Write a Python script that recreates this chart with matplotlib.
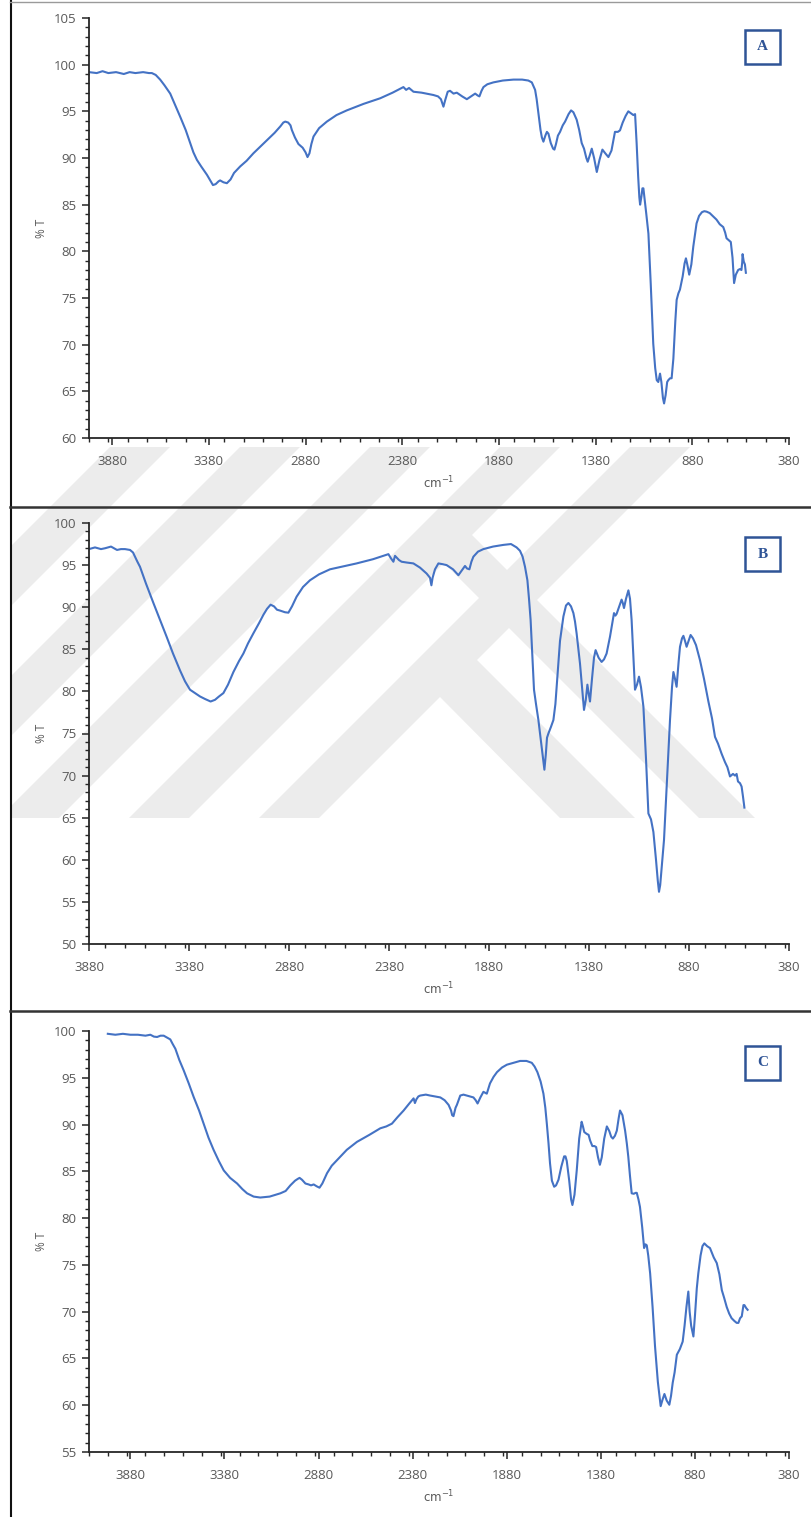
import matplotlib
matplotlib.use("Agg")
import matplotlib.pyplot as plt
from matplotlib.ticker import MultipleLocator, FixedLocator
from matplotlib.patches import Rectangle, Polygon
from matplotlib.lines import Line2D

# ---- FTIR spectra (wavenumber in cm-1, transmittance in %) ----
wn_a = [4000, 3960, 3930, 3900, 3860, 3820, 3790, 3760, 3720, 3690, 3675, 3655, 3632,
        3610, 3580, 3555, 3528, 3500, 3477, 3460, 3442, 3420, 3400, 3390, 3370, 3359,
        3345, 3330, 3322, 3305, 3287, 3268, 3250, 3218, 3185, 3150, 3120, 3080, 3040,
        3010, 2995, 2985, 2970, 2958, 2951, 2935, 2917, 2895, 2880, 2870, 2860, 2850,
        2839, 2810, 2770, 2720, 2667, 2580, 2494, 2430, 2374, 2360, 2345, 2322, 2280,
        2219, 2195, 2180, 2167, 2158, 2145, 2133, 2115, 2098, 2070, 2046, 2025, 2003,
        1990, 1981, 1970, 1960, 1940, 1909, 1860, 1805, 1760, 1728, 1710, 1693, 1685,
        1676, 1665, 1658, 1650, 1640, 1632, 1624, 1612, 1600, 1593, 1585, 1575, 1564,
        1550, 1538, 1520, 1507, 1495, 1478, 1465, 1452, 1440, 1428, 1421, 1410, 1400,
        1388, 1374, 1360, 1345, 1330, 1314, 1298, 1280, 1265, 1254, 1240, 1225, 1211,
        1198, 1185, 1176, 1168, 1160, 1154, 1150, 1143, 1138, 1133, 1126, 1118, 1107,
        1095, 1082, 1072, 1064, 1056, 1050, 1047, 1040, 1032, 1026, 1018, 1010, 1004,
        995, 987, 978, 968, 961, 952, 944, 930, 920, 913, 905, 896, 885, 875, 865, 858,
        845, 830, 818, 806, 790, 775, 755, 738, 720, 710, 703, 692, 681, 672, 664, 655,
        643, 634, 626, 622, 620, 614, 608, 603]
t_a = [99.2, 99.1, 99.3, 99.1, 99.2, 99.0, 99.2, 99.1, 99.2, 99.1, 99.1, 98.9, 98.4,
       97.8, 96.9, 95.7, 94.4, 93.0, 91.6, 90.6, 89.8, 89.1, 88.5, 88.2, 87.5, 87.1,
       87.2, 87.5, 87.6, 87.4, 87.3, 87.7, 88.4, 89.1, 89.7, 90.5, 91.1, 91.9, 92.7,
       93.4, 93.8, 93.9, 93.8, 93.5, 93.0, 92.2, 91.5, 91.1, 90.6, 90.1, 90.5, 91.5,
       92.3, 93.2, 93.9, 94.6, 95.1, 95.8, 96.4, 97.0, 97.6, 97.3, 97.5, 97.1, 97.0,
       96.75, 96.6, 96.3, 95.5, 96.2, 97.1, 97.2, 96.9, 97.0, 96.6, 96.3, 96.6, 96.9,
       96.7, 96.6, 97.2, 97.6, 97.9, 98.1, 98.3, 98.4, 98.4, 98.3, 98.1, 97.3, 96.3,
       94.8, 93.0, 92.2, 91.75, 92.4, 92.8, 92.6, 91.6, 91.0, 90.9, 91.5, 92.4, 92.8,
       93.5, 93.9, 94.7, 95.1, 94.9, 94.1, 93.0, 91.6, 91.0, 90.0, 89.6, 90.3, 91.0,
       90.0, 88.5, 89.8, 90.9, 90.5, 90.1, 90.8, 92.8, 92.8, 92.96, 93.8, 94.5, 95.0,
       94.8, 94.6, 94.7, 91.6, 88.0, 85.8, 85.0, 85.9, 86.75, 86.75, 85.5, 84.0, 81.9,
       76.5, 70.1, 67.5, 66.2, 66.0, 66.6, 66.9, 66.0, 64.3, 63.7, 64.6, 66.0, 66.2,
       66.4, 66.4, 68.5, 72.5, 74.8, 75.5, 75.9, 77.3, 78.7, 79.25, 78.5, 77.5, 78.6,
       80.5, 82.0, 83.0, 83.8, 84.2, 84.3, 84.25, 84.1, 83.8, 83.4, 82.9, 82.6, 82.0,
       81.4, 81.2, 81.0, 79.3, 76.6, 77.5, 78.0, 78.1, 78.0, 78.8, 79.7, 78.9, 78.6,
       77.7]

wn_b = [3880, 3850, 3820, 3800, 3770, 3740, 3720, 3700, 3675, 3660, 3650, 3638, 3625,
        3595, 3558, 3525, 3492, 3460, 3425, 3400, 3375, 3350, 3325, 3300, 3272, 3250,
        3230, 3208, 3185, 3158, 3130, 3108, 3085, 3058, 3030, 3008, 2990, 2972, 2955,
        2940, 2925, 2900, 2883, 2865, 2842, 2810, 2775, 2730, 2675, 2600, 2542, 2460,
        2383, 2370, 2358, 2350, 2342, 2330, 2317, 2290, 2258, 2225, 2192, 2175, 2168,
        2162, 2150, 2133, 2110, 2092, 2060, 2033, 2015, 2000, 1990, 1978, 1968, 1958,
        1935, 1908, 1860, 1808, 1770, 1742, 1725, 1712, 1700, 1688, 1680, 1672, 1665,
        1655, 1645, 1633, 1620, 1610, 1603, 1596, 1590, 1583, 1570, 1558, 1548, 1538,
        1525, 1508, 1495, 1483, 1470, 1458, 1450, 1442, 1433, 1425, 1415, 1405, 1396,
        1388, 1382, 1375, 1365, 1355, 1347, 1332, 1317, 1305, 1292, 1275, 1255, 1248,
        1242, 1230, 1217, 1211, 1205, 1195, 1183, 1175, 1167, 1158, 1150, 1140, 1130,
        1120, 1108, 1095, 1083, 1070, 1058, 1045, 1036, 1030, 1024, 1015, 1005, 990, 975,
        965, 958, 950, 942, 932, 925, 915, 908, 900, 892, 882, 872, 860, 845, 825, 805,
        783, 765, 750, 735, 717, 700, 688, 675, 660, 650, 642, 635, 625, 617, 610, 603]
t_b = [96.9, 97.1, 96.9, 97.0, 97.2, 96.8, 96.9, 96.9, 96.8, 96.5, 96.0, 95.4, 94.8,
       92.8, 90.5, 88.5, 86.5, 84.5, 82.5, 81.2, 80.2, 79.8, 79.4, 79.1, 78.8, 79.0,
       79.4, 79.8, 80.8, 82.3, 83.6, 84.5, 85.7, 86.9, 88.1, 89.1, 89.8, 90.3, 90.1,
       89.7, 89.6, 89.4, 89.35, 90.1, 91.25, 92.4, 93.2, 93.9, 94.5, 94.9, 95.2, 95.7,
       96.3, 95.8, 95.4, 96.1, 95.9, 95.6, 95.4, 95.3, 95.2, 94.7, 94.0, 93.5, 92.6,
       93.5, 94.5, 95.2, 95.1, 95.0, 94.5, 93.8, 94.4, 94.9, 94.6, 94.5, 95.4, 96.0,
       96.6, 96.9, 97.2, 97.4, 97.5, 97.1, 96.7, 96.0, 94.8, 93.2, 91.0, 88.5, 85.0,
       80.2, 78.5, 76.6, 74.0, 72.0, 70.7, 72.5, 74.5, 75.0, 75.8, 76.6, 78.5, 81.75,
       86.0, 88.9, 90.2, 90.5, 90.1, 89.3, 88.3, 86.9, 85.0, 83.3, 80.5, 77.8, 79.0,
       80.8, 79.8, 78.8, 81.5, 84.0, 84.9, 84.0, 83.5, 83.8, 84.5, 86.5, 89.3, 89.0,
       89.2, 90.0, 90.9, 90.5, 89.9, 91.0, 92.0, 91.0, 88.5, 84.0, 80.2, 80.8, 81.75,
       80.5, 78.2, 72.0, 65.5, 64.8, 63.3, 60.0, 57.5, 56.2, 57.0, 59.5, 62.35, 69.5, 76.6,
       80.5, 82.3, 81.5, 80.55, 83.5, 85.3, 86.3, 86.6, 86.0, 85.3, 86.0, 86.7, 86.3,
       85.5, 83.7, 81.5, 78.8, 76.8, 74.6, 73.8, 72.6, 71.6, 71.0, 69.9, 70.2, 70.0,
       70.2, 69.3, 69.1, 68.7, 67.5, 66.2]

wn_c = [4000, 3960, 3920, 3880, 3840, 3800, 3774, 3755, 3738, 3720, 3703, 3685, 3668,
        3655, 3641, 3620, 3597, 3570, 3544, 3515, 3491, 3465, 3438, 3410, 3384, 3350,
        3313, 3285, 3260, 3225, 3190, 3140, 3083, 3055, 3030, 3005, 2990, 2981, 2968,
        2950, 2933, 2920, 2906, 2890, 2875, 2860, 2835, 2810, 2782, 2730, 2676, 2610,
        2552, 2520, 2490, 2460, 2428, 2400, 2375, 2368, 2360, 2350, 2340, 2310, 2287,
        2260, 2233, 2210, 2189, 2176, 2170, 2163, 2152, 2145, 2127, 2110, 2092, 2075,
        2057, 2045, 2035, 2020, 2004, 1995, 1986, 1978, 1969, 1950, 1932, 1905, 1879,
        1845, 1809, 1775, 1747, 1732, 1717, 1700, 1685, 1675, 1667, 1658, 1650, 1640,
        1628, 1618, 1605, 1590, 1575, 1568, 1561, 1548, 1538, 1531, 1520, 1508, 1495,
        1482, 1475, 1468, 1455, 1445, 1437, 1425, 1414, 1405, 1395, 1385, 1375, 1362,
        1348, 1335, 1325, 1316, 1305, 1295, 1285, 1278, 1265, 1251, 1242, 1234, 1225,
        1216, 1205, 1195, 1189, 1180, 1172, 1160, 1150, 1143, 1136, 1128, 1118, 1105,
        1092, 1077, 1062, 1052, 1042, 1030, 1016, 1007, 998, 988, 976, 960, 945, 935,
        925, 915, 908, 900, 888, 880, 870, 862, 850, 840, 830, 815, 800, 780, 764, 750,
        737, 725, 711, 698, 685, 670, 658, 649, 640, 631, 622, 617, 608, 600]
t_c = [99.7, 99.6, 99.7, 99.6, 99.6, 99.5, 99.6, 99.4, 99.36, 99.5, 99.5, 99.3, 99.1,
       98.6, 98.1, 96.9, 95.8, 94.4, 92.96, 91.5, 90.1, 88.6, 87.3, 86.1, 85.1, 84.3,
       83.7, 83.1, 82.65, 82.3, 82.2, 82.3, 82.65, 82.9, 83.5, 84.0, 84.2, 84.3, 84.1,
       83.7, 83.6, 83.5, 83.6, 83.4, 83.25, 83.7, 84.8, 85.6, 86.2, 87.3, 88.15, 88.9,
       89.6, 89.8, 90.1, 90.8, 91.5, 92.2, 92.8, 92.3, 92.7, 93.0, 93.1, 93.2, 93.1,
       93.0, 92.9, 92.6, 92.1, 91.5, 91.0, 90.9, 91.8, 92.1, 93.1, 93.2, 93.1, 93.0,
       92.9, 92.6, 92.25, 92.9, 93.5, 93.4, 93.3, 93.8, 94.4, 95.1, 95.6, 96.1, 96.4,
       96.6, 96.8, 96.8, 96.6, 96.2, 95.6, 94.6, 93.3, 91.8, 90.1, 88.0, 85.85, 84.0,
       83.35, 83.5, 84.1, 85.5, 86.6, 86.6, 86.1, 84.0, 82.0, 81.4, 82.5, 85.1, 88.5,
       90.3, 89.8, 89.2, 89.0, 88.9, 88.3, 87.7, 87.7, 87.6, 86.5, 85.7, 86.5, 88.5,
       89.8, 89.3, 88.7, 88.5, 88.8, 89.35, 90.7, 91.5, 91.0, 89.35, 88.0, 86.55, 84.5,
       82.65, 82.6, 82.7, 82.7, 82.0, 81.2, 79.0, 76.8, 77.2, 77.1, 76.0, 74.1, 70.5,
       66.3, 62.5, 59.9, 60.6, 61.2, 60.5, 60.05, 61.0, 62.4, 63.5, 65.4, 66.0, 66.8, 68.5,
       70.5, 72.15, 70.0, 68.5, 67.35, 69.5, 72.5, 74.1, 76.0, 77.0, 77.3, 77.0, 76.8,
       75.8, 75.2, 74.0,
       72.3, 71.5, 70.5, 69.8, 69.3, 69.0, 68.8, 68.8, 69.3, 69.5, 70.7, 70.7, 70.4, 70.2]

panel_names = ["A", "B", "C"]
x_limits = [(4000, 380), (3880, 380), (4100, 380)]
y_limits = [(60, 105), (50, 100), (55, 100)]
x_ticks = [3880, 3380, 2880, 2380, 1880, 1380, 880, 380]

LINE_BLUE = "#4472C4"
LABEL_BLUE = "#2F5496"
TEXT_GREY = "#595959"
AXIS_COL = "#262626"
MARK_GREY = "#ECECEC"

W, H = 811, 1517
fig = plt.figure(figsize=(W / 100, H / 100), dpi=100)
fig.patch.set_facecolor("white")


def fpt(x, y):
    """pixel position (from top-left) -> figure fraction"""
    return (x / W, 1 - y / H)


def add_shape(pts, clip):
    p = Polygon([fpt(*q) for q in pts], closed=True, transform=fig.transFigure,
                facecolor=MARK_GREY, edgecolor="none", zorder=0)
    fig.add_artist(p)
    p.set_clip_path(clip)


# ---- faint background logo: slanted stripes with two nested chevrons ----
wm_top, wm_bot = 447, 818
clip = Rectangle(fpt(11, wm_bot), (W - 11) / W, (wm_bot - wm_top) / H,
                 transform=fig.transFigure, visible=False)
fig.add_artist(clip)
run = wm_bot - wm_top
for x0 in (110, 240, 370, 500, 630):
    add_shape([(x0, wm_top), (x0 + 60, wm_top), (x0 + 60 - run, wm_bot), (x0 - run, wm_bot)], clip)
# right-hand legs of the two chevrons
add_shape([(442, 505), (755, wm_bot), (699, wm_bot), (444, 563)], clip)
add_shape([(447, 630), (635, wm_bot), (560, wm_bot), (440, 697)], clip)

# axes boxes in pixel units: (left, top, right, bottom)
boxes = [(89, 18, 789, 438), (89, 523, 789, 944), (89, 1031, 789, 1452)]
label_boxes = [(745, 30, 780, 64), (745, 537, 780, 571), (745, 1046, 780, 1080)]

series = [(wn_a, t_a), (wn_b, t_b), (wn_c, t_c)]

for i, (l, t, r, b) in enumerate(boxes):
    ax = fig.add_axes([l / W, 1 - b / H, (r - l) / W, (b - t) / H])
    ax.patch.set_alpha(0)
    ax.set_zorder(2)
    x, y = series[i]
    ax.plot(x, y, color=LINE_BLUE, lw=1.5, solid_joinstyle="round")
    ax.set_xlim(*x_limits[i])
    ax.set_ylim(*y_limits[i])
    ax.xaxis.set_major_locator(FixedLocator(x_ticks))
    ax.xaxis.set_minor_locator(MultipleLocator(100))
    ax.yaxis.set_major_locator(MultipleLocator(5))
    ax.yaxis.set_minor_locator(MultipleLocator(1))
    for s in ("top", "right"):
        ax.spines[s].set_visible(False)
    for s in ("left", "bottom"):
        ax.spines[s].set_color(AXIS_COL)
        ax.spines[s].set_linewidth(1.3)
    ax.tick_params(axis="both", which="major", direction="out", length=5, width=1.1,
                   color=AXIS_COL, labelcolor=TEXT_GREY, labelsize=9.5)
    ax.tick_params(axis="both", which="minor", direction="out", length=3, width=1.0,
                   color=AXIS_COL)
    ax.tick_params(axis="x", which="major", pad=7)
    ax.tick_params(axis="y", which="major", pad=4)
    for lab in ax.get_xticklabels() + ax.get_yticklabels():
        lab.set_fontfamily("Open Sans")
    ax.set_ylabel("% T", color=TEXT_GREY, fontsize=8.5, fontfamily="Open Sans", labelpad=4)
    ax.set_xlabel("cm$^{-1}$", color=TEXT_GREY, fontsize=8.5, labelpad=5)

    # panel letter in a framed box
    bl, bt, br, bb = label_boxes[i]
    box = Rectangle(fpt(bl, bb), (br - bl) / W, (bb - bt) / H, transform=fig.transFigure,
                    facecolor="white", edgecolor=LABEL_BLUE, lw=1.8, zorder=3)
    fig.add_artist(box)
    fig.text((bl + br) / 2 / W, 1 - (bt + bb) / 2 / H, panel_names[i],
             ha="center", va="center", color=LABEL_BLUE, fontsize=11,
             fontweight="bold", fontfamily="Liberation Serif", zorder=4)

# page frame: left rule, top rule, separators between panels
fig.add_artist(Line2D([10.5 / W, 10.5 / W], [0, 1], transform=fig.transFigure,
                      color="#111111", lw=1.5, zorder=5))
fig.add_artist(Line2D([10 / W, 1], [1 - 1.5 / H, 1 - 1.5 / H], transform=fig.transFigure,
                      color="#9a9a9a", lw=1.0, zorder=5))
for yy in (506.5, 1010.5):
    fig.add_artist(Line2D([10 / W, 1], [1 - yy / H, 1 - yy / H], transform=fig.transFigure,
                          color="#333333", lw=1.8, zorder=5))

fig.savefig("out.png", dpi=100, facecolor="white")
